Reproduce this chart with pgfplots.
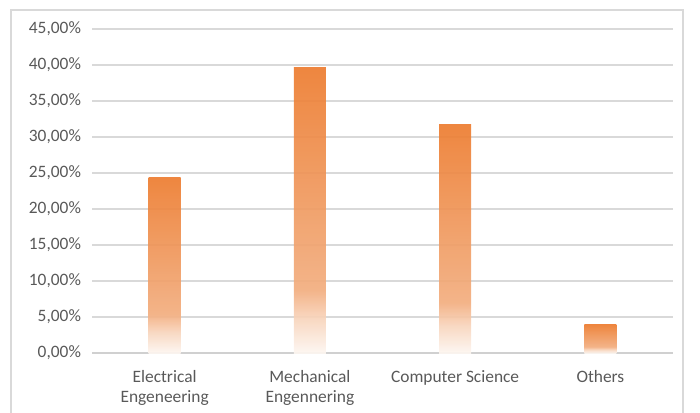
\documentclass[border=0pt]{standalone}
\usepackage{pgfplots}
\pgfplotsset{compat=1.18}
\usepackage{fontspec}
\setmainfont{Carlito}
\definecolor{txt}{HTML}{595959}
\definecolor{grid}{HTML}{D9D9D9}
\definecolor{xline}{HTML}{D0D0D0}
\definecolor{frame}{HTML}{D9D9D9}
\definecolor{orA}{HTML}{ED7D31}
\definecolor{orC}{HTML}{F2AE80}
\definecolor{orD}{HTML}{F8D5BD}
\definecolor{orE}{HTML}{FDF6F1}
\pgfdeclareverticalshading{barfade}{100bp}{color(0bp)=(orE); color(25bp)=(orE); color(31bp)=(orD); color(36bp)=(orC); color(75bp)=(orA); color(100bp)=(orA)}
\begin{document}
\begin{tikzpicture}
\useasboundingbox (0,0) rectangle (350pt,206pt);
\draw[frame, line width=0.6pt] (5.5pt,-10pt) rectangle (341.5pt,201pt);
\begin{axis}[
  at={(46pt,29.5pt)}, anchor=south west,
  scale only axis, width=290.5pt, height=162pt,
  xmin=-0.5, xmax=3.5, ymin=0, ymax=45,
  ytick={0,5,...,45},
  xtick={0,1,2,3},
  xticklabels={{Electrical\\Engeneering},{Mechanical\\Engennering},{Computer Science},{Others}},
  axis x line=bottom, axis y line=left,
  x axis line style={draw=xline, line width=0.6pt, -},
  y axis line style={draw=none},
  major tick length=0pt,
  ymajorgrids, grid style={draw=grid, line width=0.6pt},
  tick label style={font=\fontsize{8.7}{10.2}\selectfont, text=txt},
  xticklabel style={align=center, yshift=-5pt},
  yticklabel style={xshift=-2pt},
  yticklabel={\pgfmathprintnumber[fixed, fixed zerofill, precision=2, use comma, assume math mode=true]{\tick}\%},
  ybar, bar width=0.22, bar shift=0pt,
]
\addplot[draw=none, shading=barfade, opacity=0.93] coordinates {(0,24.4)};
\addplot[draw=none, shading=barfade, opacity=0.93] coordinates {(1,39.7)};
\addplot[draw=none, shading=barfade, opacity=0.93] coordinates {(2,31.8)};
\addplot[draw=none, shading=barfade, opacity=0.93] coordinates {(3,3.9)};
\end{axis}
\end{tikzpicture}
\end{document}
